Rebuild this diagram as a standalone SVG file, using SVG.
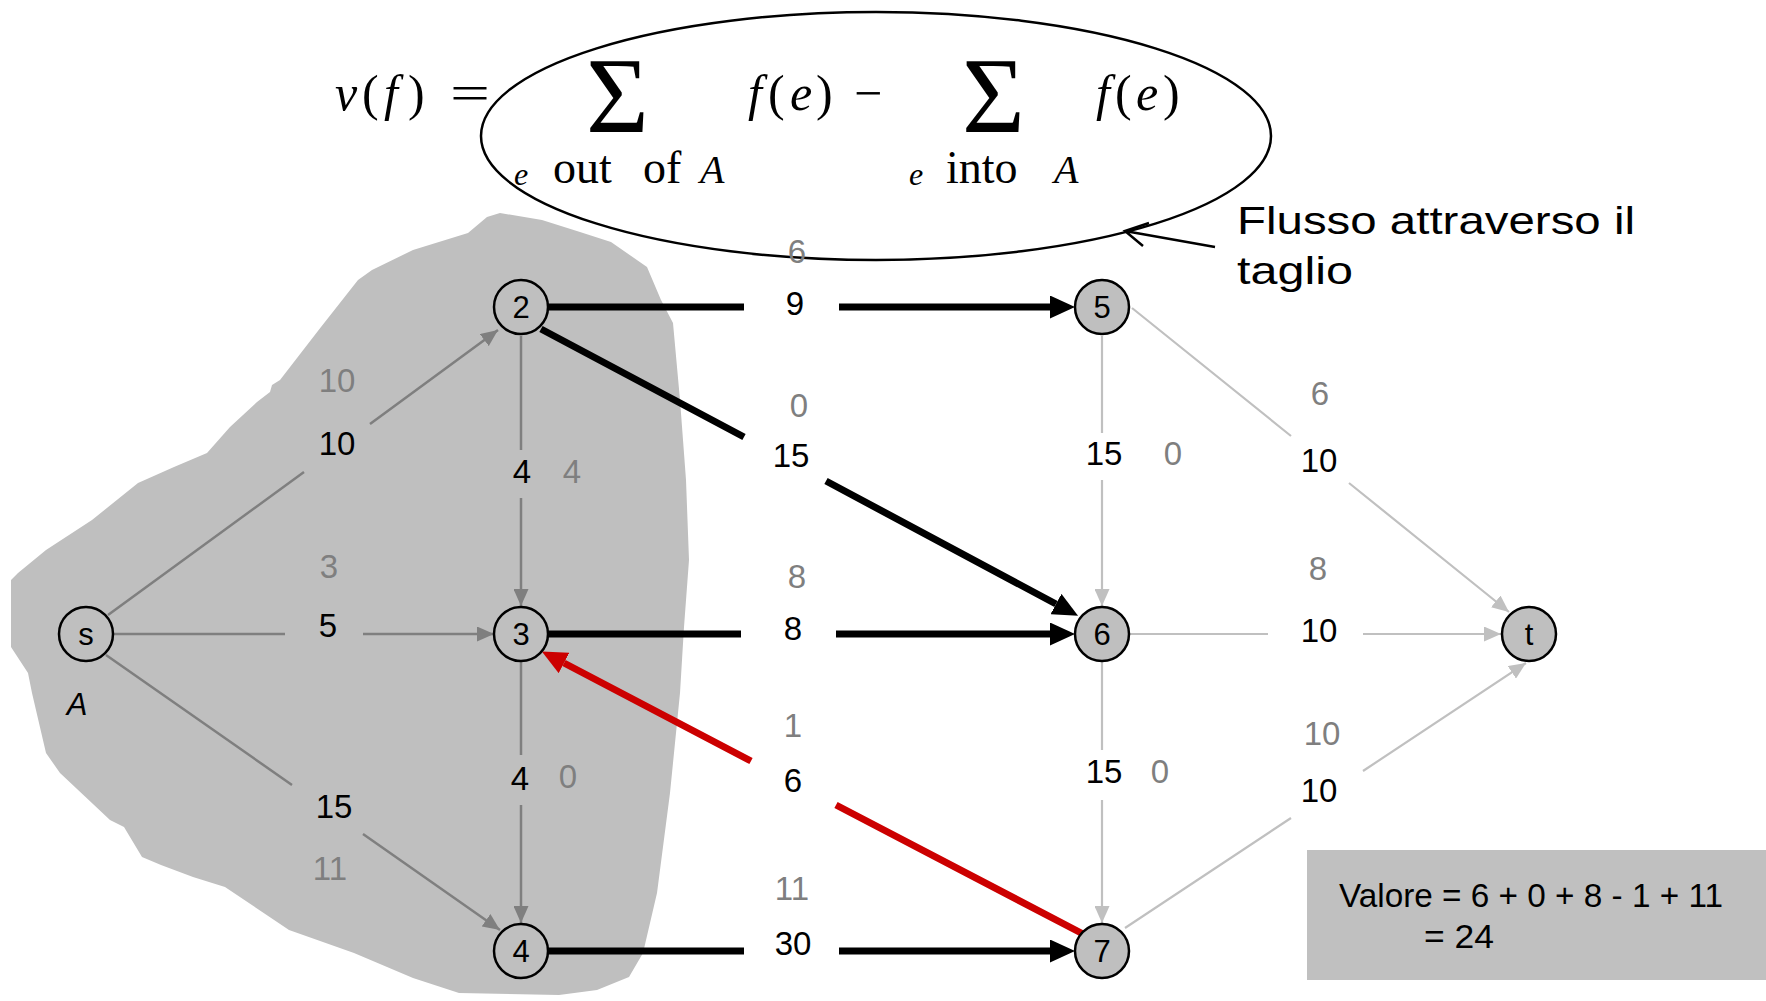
<svg xmlns="http://www.w3.org/2000/svg" width="1766" height="1001" viewBox="0 0 1766 1001">
<style>
.lbl{font-family:"Liberation Sans",Arial,sans-serif;font-size:33px;text-anchor:middle}
.blk{fill:#000}
.gry{fill:#7f7f7f}
.node circle{fill:#bfbfbf;stroke:#000;stroke-width:2.5}
.node text{font-family:"Liberation Sans",Arial,sans-serif;font-size:31px;text-anchor:middle;fill:#000}
.ein{fill:none;stroke:#7f7f7f;stroke-width:2.5}
.eout{fill:none;stroke:#c0c0c0;stroke-width:2.2}
.ecut{fill:none;stroke:#000;stroke-width:7}
.ered{fill:none;stroke:#cc0000;stroke-width:7}
.math{font-family:"Liberation Serif","Times New Roman",serif;fill:#000}
.txt{font-family:"Liberation Sans",Arial,sans-serif;fill:#000}
</style>
<defs>
<marker id="ag" markerUnits="userSpaceOnUse" markerWidth="17" markerHeight="15" refX="17" refY="7.5" orient="auto"><path d="M0,0 L17,7.5 L0,15 z" fill="#7f7f7f"/></marker>
<marker id="al" markerUnits="userSpaceOnUse" markerWidth="17" markerHeight="15" refX="17" refY="7.5" orient="auto"><path d="M0,0 L17,7.5 L0,15 z" fill="#c0c0c0"/></marker>
<marker id="ak" markerUnits="userSpaceOnUse" markerWidth="25" markerHeight="23" refX="0" refY="11.5" orient="auto"><path d="M0,0 L25,11.5 L0,23 z" fill="#000"/></marker>
<marker id="ar" markerUnits="userSpaceOnUse" markerWidth="25" markerHeight="23" refX="0" refY="11.5" orient="auto"><path d="M0,0 L25,11.5 L0,23 z" fill="#cc0000"/></marker>
</defs>
<rect width="1766" height="1001" fill="#fff"/>
<path id="blob" d="M500,213 L542,220 L580,232 L611,242 L647,267 L661,300 L673,323 L680,400 L686,480 L689,560 L684,627 L680,693 L670,793 L657,893 L643,953 L629,977 L597,990 L559,995 L459,993 L413,978 L354,953 L289,930 L225,887 L193,877 L161,865 L142,857 L124,827 L110,820 L60,773 L46,753 L32,693 L28,673 L11,647 L11,580 L18,573 L46,550 L92,520 L138,483 L174,467 L207,453 L230,427 L257,402 L270,392 L272,385 L280,380 L321,327 L358,280 L372,270 L413,250 L468,233 L487,217 Z" fill="#bfbfbf"/>
<ellipse id="cut-ellipse" cx="876" cy="136" rx="395" ry="124" fill="none" stroke="#000" stroke-width="2.5"/>
<g id="formula" class="math">
<text y="110" font-size="50"><tspan x="335" font-style="italic">v</tspan><tspan x="362">(</tspan><tspan x="384" font-style="italic">f</tspan><tspan x="408">)</tspan><tspan x="450" textLength="40" lengthAdjust="spacingAndGlyphs">=</tspan></text>
<text x="586" y="132" font-size="108">Σ</text>
<text x="962" y="132" font-size="108">Σ</text>
<text y="110" font-size="50"><tspan x="748" font-style="italic">f</tspan><tspan x="768">(</tspan><tspan x="790" font-style="italic">e</tspan><tspan x="816">)</tspan><tspan x="854">−</tspan></text>
<text y="110" font-size="50"><tspan x="1096" font-style="italic">f</tspan><tspan x="1115">(</tspan><tspan x="1136" font-style="italic">e</tspan><tspan x="1163">)</tspan></text>
<text y="185" font-size="32" font-style="italic" x="514">e</text>
<text y="183" font-size="46"><tspan x="553">out</tspan><tspan x="643">of</tspan></text>
<text y="183" font-size="40" font-style="italic" x="700">A</text>
<text y="185" font-size="32" font-style="italic" x="909">e</text>
<text y="183" font-size="46" x="946">into</text>
<text y="183" font-size="40" font-style="italic" x="1054">A</text>
</g>
<g id="callout">
<path d="M1215,247 L1125,231 M1149,223 L1125,231 L1143,246" fill="none" stroke="#000" stroke-width="2.5"/>
<text class="txt" x="1237" y="234" font-size="39" textLength="398" lengthAdjust="spacingAndGlyphs">Flusso attraverso il</text>
<text class="txt" x="1237" y="284" font-size="39" textLength="116" lengthAdjust="spacingAndGlyphs">taglio</text>
</g>
<g id="connectors">
<path class="ein" d="M108,615 L304,472 M370,424 L498,330" marker-end="url(#ag)"/>
<path class="ein" d="M113,634 L285,634 M363,634 L494,634" marker-end="url(#ag)"/>
<path class="ein" d="M106,655 L292,785 M363,834 L500,930" marker-end="url(#ag)"/>
<path class="ein" d="M521,336 L521,450 M521,498 L521,606" marker-end="url(#ag)"/>
<path class="ein" d="M521,661 L521,755 M521,805 L521,923" marker-end="url(#ag)"/>
<path class="ecut" d="M548,307 L744,307 M839,307 L1050,307" marker-end="url(#ak)"/>
<path class="ecut" d="M541,329 L744,437 M826,481 L1056,604" marker-end="url(#ak)"/>
<path class="ecut" d="M548,634 L741,634 M836,634 L1050,634" marker-end="url(#ak)"/>
<path class="ecut" d="M548,951 L744,951 M839,951 L1050,951" marker-end="url(#ak)"/>
<path class="ered" d="M1085,935 L836,805 M751,761 L564,663" marker-end="url(#ar)"/>
<path class="eout" d="M1102,336 L1102,433 M1102,480 L1102,606" marker-end="url(#al)"/>
<path class="eout" d="M1132,308 L1291,436 M1349,483 L1509,612" marker-end="url(#al)"/>
<path class="eout" d="M1129,634 L1268,634 M1363,634 L1501,634" marker-end="url(#al)"/>
<path class="eout" d="M1102,661 L1102,750 M1102,800 L1102,923" marker-end="url(#al)"/>
<path class="eout" d="M1125,928 L1291,818 M1363,771 L1526,663" marker-end="url(#al)"/>
</g>
<g id="edge-labels" class="lbl">
<text class="gry" x="337" y="392">10</text><text class="blk" x="337" y="455">10</text>
<text class="gry" x="329" y="578">3</text><text class="blk" x="328" y="637">5</text>
<text class="blk" x="334" y="818">15</text><text class="gry" x="330" y="880">11</text>
<text class="blk" x="522" y="483">4</text><text class="gry" x="572" y="483">4</text>
<text class="blk" x="520" y="790">4</text><text class="gry" x="568" y="788">0</text>
<text class="gry" x="797" y="263">6</text><text class="blk" x="795" y="315">9</text>
<text class="gry" x="799" y="417">0</text><text class="blk" x="791" y="467">15</text>
<text class="gry" x="797" y="588">8</text><text class="blk" x="793" y="640">8</text>
<text class="gry" x="793" y="737">1</text><text class="blk" x="793" y="792">6</text>
<text class="gry" x="792" y="900">11</text><text class="blk" x="793" y="955">30</text>
<text class="blk" x="1104" y="465">15</text><text class="gry" x="1173" y="465">0</text>
<text class="gry" x="1320" y="405">6</text><text class="blk" x="1319" y="472">10</text>
<text class="gry" x="1318" y="580">8</text><text class="blk" x="1319" y="642">10</text>
<text class="blk" x="1104" y="783">15</text><text class="gry" x="1160" y="783">0</text>
<text class="gry" x="1322" y="745">10</text><text class="blk" x="1319" y="802">10</text>
</g>
<g id="node-s" class="node"><circle cx="86" cy="634" r="27"/><text x="86" y="645">s</text></g>
<g id="node-2" class="node"><circle cx="521" cy="307" r="27"/><text x="521" y="318">2</text></g>
<g id="node-3" class="node"><circle cx="521" cy="634" r="27"/><text x="521" y="645">3</text></g>
<g id="node-4" class="node"><circle cx="521" cy="951" r="27"/><text x="521" y="962">4</text></g>
<g id="node-5" class="node"><circle cx="1102" cy="307" r="27"/><text x="1102" y="318">5</text></g>
<g id="node-6" class="node"><circle cx="1102" cy="634" r="27"/><text x="1102" y="645">6</text></g>
<g id="node-7" class="node"><circle cx="1102" cy="951" r="27"/><text x="1102" y="962">7</text></g>
<g id="node-t" class="node"><circle cx="1529" cy="634" r="27"/><text x="1529" y="645">t</text></g>
<text id="label-A" class="txt" x="77" y="715" font-size="31" font-style="italic" text-anchor="middle">A</text>
<g id="value-box">
<rect x="1307" y="850" width="459" height="130" fill="#c0c0c0"/>
<text class="txt" x="1339" y="907" font-size="33" textLength="384" lengthAdjust="spacingAndGlyphs">Valore = 6 + 0 + 8 - 1 + 11</text>
<text class="txt" x="1424" y="948" font-size="33" textLength="70" lengthAdjust="spacingAndGlyphs">= 24</text>
</g>
</svg>
